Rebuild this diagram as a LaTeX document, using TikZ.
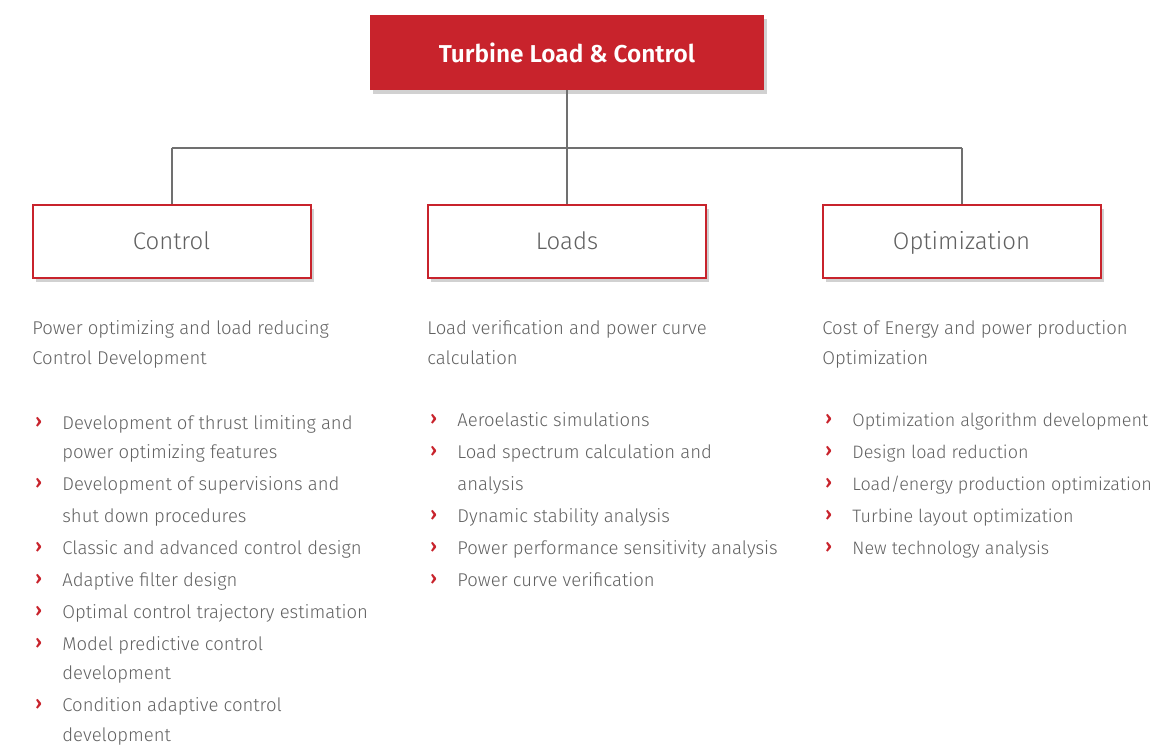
\documentclass[tikz,border=0pt]{standalone}
\usepackage{fontspec}
\setmainfont{Fira Sans Light}[BoldFont={Fira Sans SemiBold}]
\usetikzlibrary{shadows}
\definecolor{brandred}{HTML}{C8232C}
\definecolor{txtgray}{HTML}{616161}
\definecolor{linegray}{HTML}{707070}
\newcommand{\slashtxt}{/}
\begin{document}
\begin{tikzpicture}[x=0.5pt,y=-0.5pt,
  boxshadow/.style={drop shadow={shadow xshift=1.6pt,shadow yshift=-2pt,opacity=0.3,fill=black!60}},
  rootbox/.style={fill=brandred,draw=none,boxshadow,minimum width=197pt,minimum height=37.5pt,
    text=white,font=\bfseries\fontsize{12.2}{15}\selectfont,inner sep=0pt},
  catbox/.style={fill=white,draw=brandred,line width=1pt,boxshadow,minimum width=139pt,minimum height=36.5pt,
    text=txtgray,font=\fontsize{12}{14}\selectfont,inner sep=0pt,text height=1.75ex,text depth=0.25ex},
  conn/.style={draw=linegray,line width=1pt},
  headline/.style={anchor=base west,inner sep=0pt,text=txtgray,font=\fontsize{9.25}{11}\selectfont},
  itemline/.style={anchor=base west,inner sep=0pt,text=txtgray,font=\fontsize{9.25}{11}\selectfont},
  bulletmark/.style={anchor=base west,inner sep=0pt,text=brandred,font=\bfseries\fontsize{9.25}{11}\selectfont}
]
\useasboundingbox (0,0) rectangle (1160,745);

% tree connectors
\coordinate (hub) at (567,148);
\coordinate (hl) at (171.5,148);
\coordinate (hr) at (961.5,148);

% root and category boxes
\node[rootbox] (root) at (567,52.5) {Turbine Load \& Control};
\node[catbox] (ctrl) at (171.5,241.5) {Control};
\node[catbox] (load) at (567,241.5) {Loads};
\node[catbox] (opt) at (961.5,241.5) {Optimization};

\draw[conn] (root.south) -- (hub);
\draw[conn] (hl) -- (hr);
\draw[conn] (hl) -- (ctrl.north);
\draw[conn] (hub) -- (load.north);
\draw[conn] (hr) -- (opt.north);

% Control column
\node[headline] (c-h1) at (32,334) {Power optimizing and load reducing};
\node[headline] (c-h2) at (32,364) {Control Development};
\foreach \y/\t/\m [count=\i] in {
  429/Development of thrust limiting and/1,
  458/power optimizing features/0,
  490/Development of supervisions and/1,
  522/shut down procedures/0,
  554/Classic and advanced control design/1,
  586/Adaptive filter design/1,
  618/Optimal control trajectory estimation/1,
  650/Model predictive control/1,
  679/development/0,
  711/Condition adaptive control/1,
  741/development/0}{
  \node[itemline] (c-\i) at (62,\y) {\t};
  \ifnum\m=1 \node[bulletmark] (cb-\i) at (35,\y-2) {›}; \fi
}

% Loads column
\node[headline] (l-h1) at (427,334) {Load verification and power curve};
\node[headline] (l-h2) at (427,364) {calculation};
\foreach \y/\t/\m [count=\i] in {
  426/Aeroelastic simulations/1,
  458/Load spectrum calculation and/1,
  490/analysis/0,
  522/Dynamic stability analysis/1,
  554/Power performance sensitivity analysis/1,
  586/Power curve verification/1}{
  \node[itemline] (l-\i) at (457,\y) {\t};
  \ifnum\m=1 \node[bulletmark] (lb-\i) at (430,\y-2) {›}; \fi
}

% Optimization column (slightly tighter to keep the long lines inside)
\node[headline] (o-h1) at (822,334) {Cost of Energy and power production};
\node[headline] (o-h2) at (822,364) {Optimization};
\foreach \y/\t/\m [count=\i] in {
  426/Optimization algorithm development/1,
  458/Design load reduction/1,
  490/Load\slashtxt energy production optimization/1,
  522/Turbine layout optimization/1,
  554/New technology analysis/1}{
  \node[itemline,font=\fontsize{9.0}{11}\selectfont] (o-\i) at (852,\y) {\t};
  \ifnum\m=1 \node[bulletmark] (ob-\i) at (825,\y-2) {›}; \fi
}
\end{tikzpicture}
\end{document}
